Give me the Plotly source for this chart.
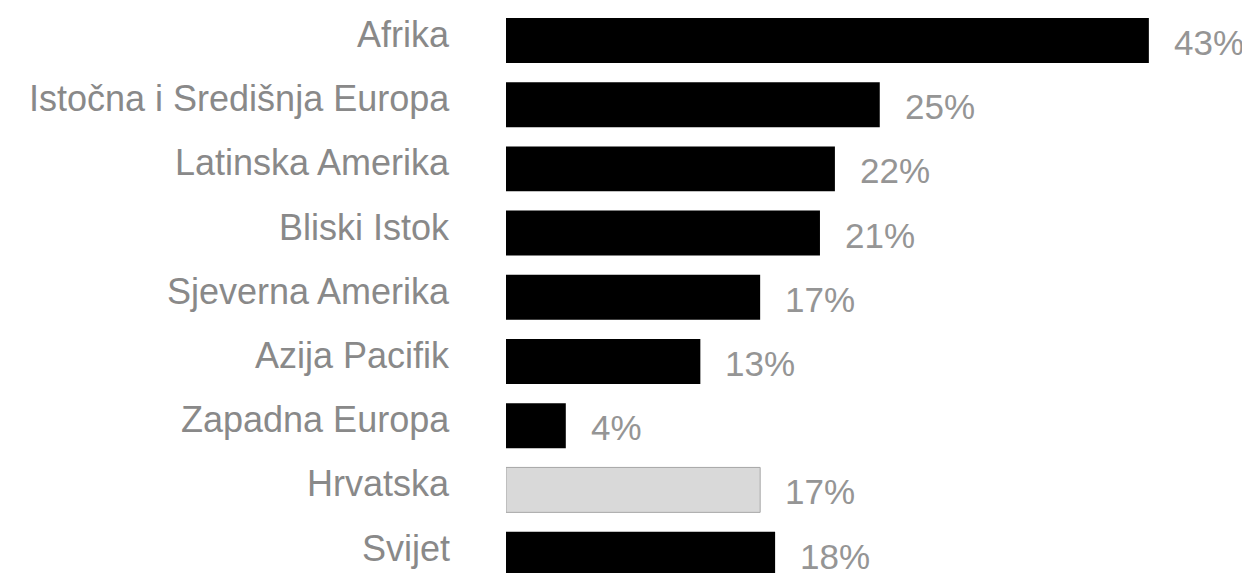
import plotly.graph_objects as go

regions = ["Afrika", "Istočna i Središnja Europa", "Latinska Amerika", "Bliski Istok",
           "Sjeverna Amerika", "Azija Pacifik", "Zapadna Europa", "Hrvatska", "Svijet"]
values = [43, 25, 22, 21, 17, 13, 4, 17, 18]
value_labels = ["43%", "25%", "22%", "21%", "17%", "13%", "4%", "17%", "18%"]

fill = ["#d9d9d9" if r == "Hrvatska" else "#000000" for r in regions]
edge = ["#a6a6a6" if r == "Hrvatska" else "#000000" for r in regions]
edge_w = [1 if r == "Hrvatska" else 0 for r in regions]

fig = go.Figure(go.Bar(
    x=values,
    y=regions,
    orientation="h",
    marker=dict(color=fill, line=dict(color=edge, width=edge_w)),
    width=0.7,
    hoverinfo="x+y",
))

# category names left of the bars
for r in regions:
    fig.add_annotation(x=0, y=r, text=r, showarrow=False, xanchor="right",
                       xshift=-54, yshift=6,
                       font=dict(family="Liberation Sans, Arial", size=36, color="#898989"))

# percentage labels right of the bars
for r, v, t in zip(regions, values, value_labels):
    fig.add_annotation(x=v, y=r, text=t, showarrow=False, xanchor="left",
                       xshift=23, yshift=-2,
                       font=dict(family="Liberation Sans, Arial", size=35, color="#959595"))

# the page body adds an 8px offset, so the plot area is pulled up/left by that much
fig.update_layout(
    width=1250, height=573,
    margin=dict(l=498, r=0, t=0, b=0),
    plot_bgcolor="white", paper_bgcolor="white",
    showlegend=False,
    xaxis=dict(range=[0, 50.30], visible=False, fixedrange=True),
    yaxis=dict(range=[8.419, -0.506], visible=False, fixedrange=True,
               categoryorder="array", categoryarray=regions),
)

fig.write_html("out.html")
